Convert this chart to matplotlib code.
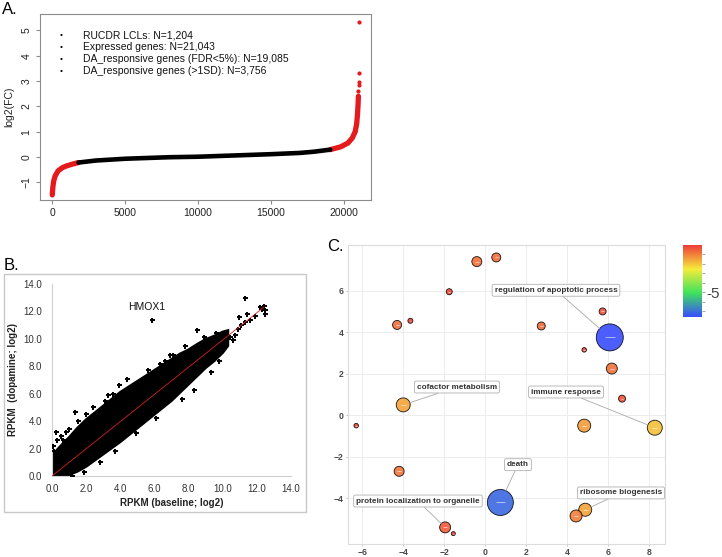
import matplotlib
matplotlib.use("Agg")
import matplotlib.pyplot as plt
import numpy as np
from matplotlib.colors import LinearSegmentedColormap
from matplotlib.patches import Rectangle

plt.rcParams['font.family'] = ['Liberation Sans', 'DejaVu Sans']

W, H = 722, 557

# ---- panel A: sorted log2 fold change per gene
rank_low = [1, 20, 50, 100, 200, 400, 700, 1000, 1400, 1800]
fc_low = [-1.5, -1.35, -1.15, -0.95, -0.75, -0.55, -0.42, -0.35, -0.28, -0.22]
rank_mid = [1800, 3000, 5000, 8000, 10000, 12000, 15000, 17000, 18000, 19087]
fc_mid = [-0.22, -0.14, -0.07, -0.01, 0.01, 0.05, 0.11, 0.16, 0.21, 0.29]
rank_high = [19087, 19800, 20300, 20600, 20800, 20900, 20960, 21000, 21020]
fc_high = [0.29, 0.4, 0.55, 0.75, 1.0, 1.3, 1.7, 2.1, 2.4]
rank_top = [21025, 21030, 21035, 21040, 21043]
fc_top = [2.62, 2.85, 2.95, 3.33, 5.35]
summary_lines = ["RUCDR LCLs: N=1,204", "Expressed genes: N=21,043",
                 "DA_responsive genes (FDR<5%): N=19,085",
                 "DA_responsive genes (>1SD): N=3,756"]

# ---- panel B: RPKM baseline vs dopamine (dense cloud envelope + outliers)
upper_x = [0.0, 0.3, 0.6, 1.0, 1.5, 2.0, 2.5, 3.0, 3.5, 4.0, 4.5, 5.0, 5.5, 6.0, 6.5,
           7.0, 7.5, 8.0, 8.5, 9.0, 9.5, 10.0, 10.3]
upper_y = [1.4, 1.9, 2.3, 2.8, 3.5, 4.1, 4.6, 5.1, 5.6, 6.1, 6.5, 6.9, 7.3, 7.7, 8.1,
           8.5, 8.9, 9.2, 9.6, 9.95, 10.2, 10.5, 10.6]
lower_x = [0.0, 0.4, 1.0, 1.5, 2.0, 2.5, 3.0, 3.5, 4.0, 4.5, 5.0, 5.5, 6.0, 6.5, 7.0,
           7.5, 8.0, 8.5, 9.0, 9.5, 10.0, 10.3]
lower_y = [0.0, 0.0, 0.1, 0.35, 0.7, 1.15, 1.6, 2.05, 2.5, 3.0, 3.5, 4.0, 4.5, 5.0, 5.5,
           6.1, 6.7, 7.3, 7.9, 8.4, 9.0, 9.5]
out_x = [11.29, 12.5, 11.43, 10.94, 5.88, 8.5, 9.63, 10.7, 7.09, 8.16, 7.29, 7.0, 4.41,
         5.23, 1.33, 0.25, 0.84, 0.64, 2.79, 4.45, 4.94, 9.63, 10.4, 10.6, 12.3, 12.4,
         12.45, 12.2, 11.9, 11.6, 11.1, 10.9, 11.3, 0.1, 0.05, 3.1, 3.6, 6.3, 6.6, 8.9,
         0.3, 0.5, 1.0, 1.5, 2.0, 2.4, 3.3, 3.9, 5.6, 6.9, 7.8, 2.8, 3.7, 4.9, 6.1, 7.6,
         8.3, 9.3, 9.8, 1.9, 1.2]
out_y = [12.97, 11.8, 11.8, 11.58, 11.34, 10.66, 10.41, 10.3, 8.83, 9.2, 6.64, 6.0, 7.1,
         7.0, 4.7, 3.24, 3.24, 2.63, 4.82, 3.6, 4.2, 9.44, 10.17, 9.9, 12.2, 12.4,
         12.1, 12.3, 11.7, 11.4, 11.0, 10.7, 11.2, 1.8, 2.2, 5.5, 6.0, 8.2, 8.4, 10.1,
         2.6, 2.9, 3.4, 4.0, 4.5, 5.0, 5.9, 6.6, 7.7, 8.8, 9.5, 1.0, 1.8, 3.1, 4.2, 5.6,
         6.3, 7.6, 8.4, 0.3, 0.0]
fit_x = [0.0, 12.4]
fit_y = [0.0, 12.3]

# ---- panel C: REVIGO GO-term bubbles
go_x = [6.1, 0.75, 8.3, -4.0, 4.85, 4.9, 4.45, -1.95, -4.3, 2.75, 6.2, -4.2, -0.4, 0.55,
        -1.75, -3.65, 5.75, 4.85, 6.7, -6.3, -1.55]
go_y = [3.75, -4.2, -0.6, 0.5, -0.5, -4.55, -4.85, -5.4, 4.35, 4.3, 2.25, -2.7, 7.4, 7.6,
        5.95, 4.55, 5.0, 3.15, 0.8, -0.5, -5.7]
go_logp = [-7.6, -7.1, -1.9, -1.5, -1.4, -1.5, -1.0, -0.5, -0.75, -0.7, -0.8, -0.85,
           -0.75, -0.7, -0.2, -0.15, -0.3, -0.2, -0.3, -0.15, -0.15]
go_size = [4.3, 4.2, 3.1, 3.0, 2.9, 2.9, 2.8, 2.7, 2.5, 2.4, 2.7, 2.6, 2.6, 2.5,
           2.2, 2.1, 2.3, 2.05, 2.3, 2.05, 2.0]
go_terms = ["regulation of apoptotic process", "death", "immune response",
            "cofactor metabolism", "ribosome biogenesis", "protein localization to organelle"]
go_term_idx = [0, 1, 2, 3, 5, 7]


def fig_rect(x0, y0, x1, y1):
    return [x0 / W, 1 - y1 / H, (x1 - x0) / W, (y1 - y0) / H]


fig = plt.figure(figsize=(W / 100, H / 100), dpi=100)

# ================= A
axA = fig.add_axes(fig_rect(40, 14, 371, 200))
axA.plot(rank_low, fc_low, color='#e41a1c', lw=3.8, solid_capstyle='round')
axA.plot(rank_high, fc_high, color='#e41a1c', lw=3.8, solid_capstyle='round')
axA.plot(rank_mid, fc_mid, color='black', lw=3.3, solid_capstyle='round')
axA.scatter(rank_top, fc_top, s=9, color='#e41a1c', lw=0)
axA.set_xlim(-841, 21885)
axA.set_ylim(-1.70, 5.65)
axA.set_xticks([0, 5000, 10000, 15000, 20000])
axA.set_yticks([-1, 0, 1, 2, 3, 4, 5])
for s in axA.spines.values():
    s.set_color('#8c8c8c')
axA.tick_params(length=3, pad=3, labelsize=7.5, color='#8c8c8c', labelcolor='#222222')
for lb in axA.get_yticklabels():
    lb.set_rotation(90)
    lb.set_va('center')
axA.set_ylabel('log2(FC)', fontsize=7.5, color='#222222', labelpad=2)
axA.yaxis.set_label_coords(-26 / 331, 0.5)
for i, line in enumerate(summary_lines):
    yy = 1 - (35 + 12 * i) / H
    fig.text(61 / W, yy, '\u2022', fontsize=6, ha='center', va='center')
    fig.text(83 / W, yy, line, fontsize=7.5, ha='left', va='center', color='#111111')
fig.text(2 / W, 1 - 10 / H, 'A.', fontsize=12, ha='left', va='center')

# ================= B
fig.patches.append(Rectangle((4 / W, 1 - 512 / H), 302 / W, 238 / H, transform=fig.transFigure,
                             fill=False, ec='#c8c8c8', lw=1.0))
axB = fig.add_axes(fig_rect(52, 284, 291, 476))
cloud_x = list(upper_x) + list(lower_x[::-1])
cloud_y = list(upper_y) + list(lower_y[::-1])
axB.fill(cloud_x, cloud_y, color='black', lw=2.0, ec='black', zorder=2)
axB.plot(out_x, out_y, 'P', color='black', ms=3.6, mew=0, zorder=3)
axB.plot(fit_x, fit_y, color='#d62020', lw=0.6, zorder=4)
axB.set_xlim(0, 14)
axB.set_ylim(0, 14)
axB.set_xticks(np.arange(0, 15, 2))
axB.set_yticks(np.arange(0, 15, 2))
axB.xaxis.set_major_formatter(matplotlib.ticker.FormatStrFormatter('%.1f'))
axB.yaxis.set_major_formatter(matplotlib.ticker.FormatStrFormatter('%.1f'))
axB.spines['top'].set_visible(False)
axB.spines['right'].set_visible(False)
axB.spines['left'].set_color('#cfcfcf')
axB.spines['bottom'].set_color('#cfcfcf')
axB.tick_params(length=0, labelsize=7, labelcolor='#333333')
axB.tick_params(axis='y', pad=7)
axB.tick_params(axis='x', pad=6)
axB.set_xlabel('RPKM (baseline; log2)', fontsize=7, fontweight='bold', color='#222222', labelpad=3)
axB.set_ylabel('RPKM  (dopamine; log2)', fontsize=7, fontweight='bold', color='#222222')
axB.yaxis.set_label_coords(-34 / 239, 0.5)
axB.text(5.57, 12.33, 'HMOX1', fontsize=7.5, ha='center', va='center', color='#111111')
fig.text(4 / W, 1 - 266 / H, 'B.', fontsize=12, ha='left', va='center')

# ================= C
cmap = LinearSegmentedColormap.from_list('revigo', ['#3a4cff', '#3fe35c', '#f5ec3a', '#ef3b3b'])
vmin, vmax = -7.6, 0.0
axC = fig.add_axes(fig_rect(348, 245, 665, 544))
axC.set_xlim(-6.7, 8.8)
axC.set_ylim(-6.2, 8.2)
axC.set_xticks(np.arange(-6, 9, 2))
axC.set_yticks(np.arange(-4, 7, 2))
axC.grid(True, color='#ececec', lw=0.7)
axC.set_axisbelow(True)
for s in axC.spines.values():
    s.set_color('#dcdcdc')
    s.set_linewidth(0.8)
axC.tick_params(length=1.5, width=0.6, color='#bbbbbb', pad=1.5, labelsize=6.2, labelcolor='#4a4a4a')
for lb in axC.get_xticklabels() + axC.get_yticklabels():
    lb.set_fontweight('bold')

diam = [4 + (v - 2.0) * 10 for v in go_size]  # pixel diameter scale
order = np.argsort(diam)[::-1]
gx = np.array(go_x)[order]
gy = np.array(go_y)[order]
gd = np.array(diam)[order]
gc = np.array(go_logp)[order]
axC.scatter(gx, gy, s=(gd * 0.72) ** 2, c=gc, cmap=cmap, vmin=vmin, vmax=vmax,
            alpha=0.9, edgecolors=(0, 0, 0, 0.15), linewidths=0.6, zorder=3)
axC.scatter(gx, gy, s=(gd * 0.72 * 0.35) ** 2, marker='_', color=(1, 1, 1, 0.65),
            linewidths=0.6, zorder=4)

label_at = {0: (3.47, 6.02), 1: (1.61, -2.38), 2: (3.96, 1.12), 3: (-1.37, 1.36),
            5: (6.65, -3.74), 7: (-3.28, -4.13)}
for term, idx in zip(go_terms, go_term_idx):
    r_pt = diam[idx] * 0.72 / 2
    axC.annotate(term, xy=(go_x[idx], go_y[idx]), xytext=label_at[idx], textcoords='data',
                 ha='center', va='center', fontsize=5.9, fontweight='bold', color='#333333',
                 bbox=dict(boxstyle='round,pad=0.3,rounding_size=0.2', fc='white',
                           ec='#b0b0b0', lw=0.6),
                 arrowprops=dict(arrowstyle='-', color='#a8a8a8', lw=0.6,
                                 shrinkA=0, shrinkB=r_pt),
                 zorder=6)
fig.text(327 / W, 1 - 247 / H, 'C.', fontsize=12, ha='left', va='center')

# colour bar
cax = fig.add_axes(fig_rect(683, 245, 702, 317))
grad = np.linspace(vmin, vmax, 256).reshape(-1, 1)
cax.imshow(grad, aspect='auto', cmap=cmap, vmin=vmin, vmax=vmax, origin='lower',
           extent=[0, 1, vmin, vmax])
cax.set_xticks([])
cax.yaxis.tick_right()
cax.set_yticks([-7, -6, -5, -4, -3, -2, -1])
cax.set_yticklabels(['', '', '-5', '', '', '', ''])
cax.tick_params(axis='y', length=2.5, width=0.6, color='#999999', pad=1, labelsize=11,
                labelcolor='#444444')
for s in cax.spines.values():
    s.set_visible(False)

fig.savefig('out.png', dpi=100)
